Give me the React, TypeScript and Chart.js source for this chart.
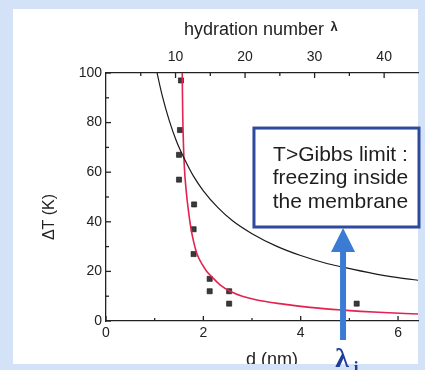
import React, { useEffect, useRef } from "react";
import { Chart, registerables } from "chart.js";
Chart.register(...registerables);

// measured points: pore size d (nm) vs supercooling ΔT (K)
const measuredD = [1.54, 1.52, 1.5, 1.5, 1.81, 1.8, 1.8, 2.13, 2.13, 2.53, 2.53, 5.15];
const measuredT = [97, 77, 67, 57, 47, 37, 27, 17, 12, 12, 7, 7];

// black curve (Gibbs-Thomson limit)
const blackD = [1.0, 1.05, 1.15, 1.3, 1.45, 1.62, 1.8, 2.0, 2.3, 2.6, 3.0, 3.5, 4.0, 4.5, 4.87, 5.5, 6.0, 6.5];
const blackT = [105, 100, 91.3, 80.8, 72.4, 65, 58.3, 52.5, 45.7, 40.4, 35.2, 30.2, 26.4, 23.4, 21.7, 19.1, 17.5, 16.2];

// red curve
const redD = [1.565, 1.575, 1.59, 1.61, 1.65, 1.69, 1.74, 1.8, 1.87, 1.97, 2.07, 2.17, 2.35, 2.55, 2.8, 3.1, 3.57, 4.19, 4.87, 5.6, 6.41];
const redT = [102, 85, 72, 62, 52, 45, 38, 32, 27, 23, 20, 17.9, 14.5, 12, 10, 8.5, 7, 5.5, 4.4, 3.5, 2.8];

// axes
const xTicks = [0, 2, 4, 6];
const xMinorTicks = [1, 3, 5];
const yTicks = [0, 20, 40, 60, 80, 100];
const yMinorTicks = [10, 30, 50, 70, 90];
const lambdaTicks = [10, 20, 30, 40];
const lambdaMinorTicks = [5, 15, 25, 35];
const X_MAX = 6.41;
const LAMBDA_MAX = 44.87;

// annotation
const boxLines = ["T>Gibbs limit :", "freezing inside", "the membrane"];
const LAMBDA_I_D = 4.87;
const BOX_LEFT_D = 3.04;
const BOX_TOP_T = 77.8;
const BOX_BOTTOM_T = 37.9;

const FONT = '"Liberation Sans", Arial, Helvetica, sans-serif';

const decorPlugin = {
  id: "decor",
  beforeDraw(chart: any) {
    const ctx = chart.ctx;
    ctx.save();
    ctx.fillStyle = "#d3e2f6";
    ctx.fillRect(0, 0, chart.width, chart.height);
    ctx.fillStyle = "#ffffff";
    ctx.fillRect(13, 9, 405, 355);
    ctx.restore();
  },
  afterDraw(chart: any) {
    const ctx = chart.ctx;
    const xs = chart.scales.x;
    const x2 = chart.scales.x2;
    const ys = chart.scales.y;
    const area = chart.chartArea;
    ctx.save();
    // inward tick marks
    ctx.strokeStyle = "#222";
    ctx.lineWidth = 1.3;
    const tick = (x1: number, y1: number, xx: number, yy: number) => {
      ctx.beginPath();
      ctx.moveTo(x1, y1);
      ctx.lineTo(xx, yy);
      ctx.stroke();
    };
    xTicks.forEach((v) => { const p = xs.getPixelForValue(v); tick(p, area.bottom, p, area.bottom - 5); });
    xMinorTicks.forEach((v) => { const p = xs.getPixelForValue(v); tick(p, area.bottom, p, area.bottom - 3); });
    yTicks.forEach((v) => { const p = ys.getPixelForValue(v); tick(area.left, p, area.left + 5, p); });
    yMinorTicks.forEach((v) => { const p = ys.getPixelForValue(v); tick(area.left, p, area.left + 3, p); });
    lambdaTicks.forEach((v) => { const p = x2.getPixelForValue(v); tick(p, area.top, p, area.top + 5); });
    lambdaMinorTicks.forEach((v) => { const p = x2.getPixelForValue(v); tick(p, area.top, p, area.top + 3); });

    // titles
    ctx.fillStyle = "#222";
    ctx.font = `18px ${FONT}`;
    ctx.textAlign = "center";
    ctx.textBaseline = "middle";
    ctx.fillText("hydration number", 254, 30);
    ctx.font = `bold 13px ${FONT}`;
    ctx.fillText("λ", 334, 27);

    ctx.save();
    ctx.translate(50, 217);
    ctx.rotate(-Math.PI / 2);
    ctx.font = `16px ${FONT}`;
    ctx.fillText("ΔT (K)", 0, 0);
    ctx.restore();

    ctx.save();
    ctx.beginPath();
    ctx.rect(13, 9, 405, 355);
    ctx.clip();
    ctx.font = `18px ${FONT}`;
    ctx.textBaseline = "top";
    ctx.fillText("d (nm)", 272, 351);
    ctx.restore();

    // annotation box
    const bl = xs.getPixelForValue(BOX_LEFT_D);
    const bt = ys.getPixelForValue(BOX_TOP_T);
    const bb = ys.getPixelForValue(BOX_BOTTOM_T);
    const br = 419;
    ctx.fillStyle = "#ffffff";
    ctx.fillRect(bl, bt, br - bl, bb - bt);
    ctx.strokeStyle = "#2d4a9c";
    ctx.lineWidth = 3;
    ctx.strokeRect(bl, bt, br - bl, bb - bt);
    ctx.fillStyle = "#1e1e1e";
    ctx.font = `21px ${FONT}`;
    ctx.textAlign = "center";
    ctx.textBaseline = "middle";
    const cx = (bl + br) / 2 + 4;
    boxLines.forEach((t, i) => ctx.fillText(t, cx, bt + 27 + i * 23.5));

    // arrow
    const ax = xs.getPixelForValue(LAMBDA_I_D);
    const tipY = bb + 1;
    ctx.fillStyle = "#3b7bd4";
    ctx.fillRect(ax - 3, tipY + 20, 6, area.bottom + 19 - (tipY + 20));
    ctx.beginPath();
    ctx.moveTo(ax, tipY);
    ctx.lineTo(ax - 12, tipY + 24);
    ctx.lineTo(ax + 12, tipY + 24);
    ctx.closePath();
    ctx.fill();

    // λi label
    ctx.fillStyle = "#1f3d99";
    ctx.font = `bold 28px "Liberation Serif", "DejaVu Serif", serif`;
    ctx.textAlign = "center";
    ctx.textBaseline = "alphabetic";
    ctx.fillText("λ", ax - 1, 367);
    ctx.font = `bold 17px "Liberation Serif", "DejaVu Serif", serif`;
    ctx.fillText("i", ax + 13, 373);
    ctx.restore();
  },
};

export default function App() {
  const ref = useRef<HTMLCanvasElement | null>(null);
  useEffect(() => {
    if (!ref.current) return;
    const tickFont = { family: FONT, size: 14 };
    const chart = new Chart(ref.current, {
      type: "scatter",
      data: {
        datasets: [
          {
            label: "Gibbs limit",
            data: blackD.map((d, i) => ({ x: d, y: blackT[i] })),
            showLine: true,
            borderColor: "#1a1a1a",
            borderWidth: 1.2,
            pointRadius: 0,
            cubicInterpolationMode: "monotone",
            xAxisID: "x",
            yAxisID: "y",
          },
          {
            label: "fit",
            data: redD.map((d, i) => ({ x: d, y: redT[i] })),
            showLine: true,
            borderColor: "#e3224f",
            borderWidth: 1.6,
            pointRadius: 0,
            cubicInterpolationMode: "monotone",
            xAxisID: "x",
            yAxisID: "y",
          },
          {
            label: "measured",
            data: measuredD.map((d, i) => ({ x: d, y: measuredT[i] })),
            showLine: false,
            pointStyle: "rect",
            pointRadius: 3.6,
            backgroundColor: "#3a3a3a",
            borderColor: "#111",
            borderWidth: 0.6,
            xAxisID: "x",
            yAxisID: "y",
          },
        ],
      } as any,
      options: {
        animation: false,
        responsive: false,
        layout: { padding: { left: 0, right: 7, top: 0, bottom: 0 } },
        plugins: { legend: { display: false }, tooltip: { enabled: false } },
        scales: {
          x: {
            type: "linear",
            position: "bottom",
            min: 0,
            max: X_MAX,
            afterBuildTicks: (s: any) => { s.ticks = xTicks.map((v) => ({ value: v })); },
            afterFit: (s: any) => { s.height = 49; },
            grid: { display: false, drawTicks: false },
            border: { display: true, color: "#222", width: 1.3 },
            ticks: { padding: 4, font: tickFont, color: "#222", maxRotation: 0, autoSkip: false },
          },
          x2: {
            type: "linear",
            position: "top",
            min: 0,
            max: LAMBDA_MAX,
            afterBuildTicks: (s: any) => { s.ticks = lambdaTicks.map((v) => ({ value: v })); },
            afterFit: (s: any) => { s.height = 73; },
            grid: { display: false, drawTicks: false },
            border: { display: true, color: "#222", width: 1.3 },
            ticks: { padding: 7, font: tickFont, color: "#222", maxRotation: 0, autoSkip: false },
          },
          y: {
            type: "linear",
            position: "left",
            min: 0,
            max: 100,
            afterBuildTicks: (s: any) => { s.ticks = yTicks.map((v) => ({ value: v })); },
            afterFit: (s: any) => { s.width = 106; },
            grid: { display: false, drawTicks: false },
            border: { display: true, color: "#222", width: 1.3 },
            ticks: { padding: 4, font: tickFont, color: "#222", autoSkip: false },
          },
        },
      } as any,
      plugins: [decorPlugin],
    });
    return () => chart.destroy();
  }, []);
  return (
    <div style={{ position: "fixed", left: 0, top: 0, width: 425, height: 370 }}>
      <canvas ref={ref} width={425} height={370} style={{ display: "block" }} />
    </div>
  );
}
